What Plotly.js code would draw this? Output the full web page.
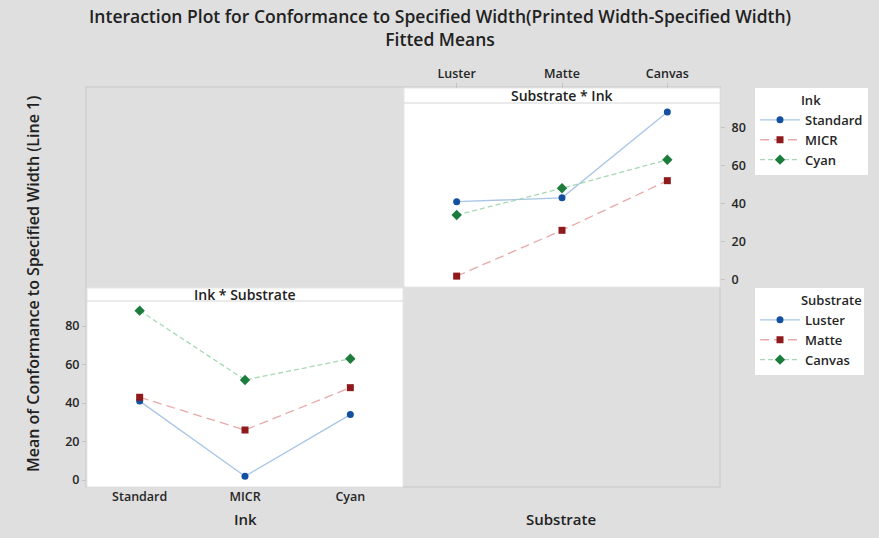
<!DOCTYPE html>
<html>
<head>
<meta charset="utf-8">
<script src="https://cdn.plot.ly/plotly-3.0.1.min.js"></script>
<style>html,body{margin:0;padding:0;background:#dfdfdf;}#chart{width:879px;height:538px;}</style>
</head>
<body>
<div id="chart"></div>
<script>
// Data: fitted means, rows = Ink, columns = Substrate
const inks = ['Standard', 'MICR', 'Cyan'];
const substrates = ['Luster', 'Matte', 'Canvas'];
const standardMeans = [41, 43, 88];
const micrMeans = [2, 26, 52];
const cyanMeans = [34, 48, 63];
const yTicks = [0, 20, 40, 60, 80];

const W = 879, H = 538;
const px = v => v / W;
const py = v => 1 - v / H;

const FONT = 'Open Sans, Noto Sans, sans-serif';
const styles = [
  {marker: {color: '#1450a0', symbol: 'circle', size: 7}, line: {color: '#a9c5e6', width: 1.3, dash: 'solid'}},
  {marker: {color: '#8e1a1c', symbol: 'square', size: 7}, line: {color: '#e9a9a9', width: 1.3, dash: '9px,5px'}},
  {marker: {color: '#1c7c3c', symbol: 'diamond', size: 8}, line: {color: '#a6d9b3', width: 1.3, dash: '5px,3px'}}
];

const inkSeries = [standardMeans, micrMeans, cyanMeans];
const traces = [];
// Top-right panel: Substrate on x, one line per Ink
inkSeries.forEach((vals, i) => {
  traces.push({
    type: 'scatter', mode: 'lines+markers', name: inks[i],
    x: substrates, y: vals, xaxis: 'x', yaxis: 'y', legend: 'legend',
    marker: styles[i].marker, line: styles[i].line, cliponaxis: false
  });
});
// Bottom-left panel: Ink on x, one line per Substrate
substrates.forEach((s, j) => {
  traces.push({
    type: 'scatter', mode: 'lines+markers', name: s,
    x: inks, y: inkSeries.map(r => r[j]), xaxis: 'x2', yaxis: 'y2', legend: 'legend2',
    marker: styles[j].marker, line: styles[j].line, cliponaxis: false
  });
});

const tickFont = {family: FONT, size: 12.5, color: '#262626', weight: 600};
const axisCommon = {
  showgrid: false, zeroline: false, showline: false,
  ticks: 'outside', ticklen: 4, tickcolor: '#c4c4c4', tickwidth: 1,
  tickfont: tickFont, fixedrange: true
};
const pad = '\u00a0'.repeat(13);
const legendFont = {family: FONT, size: 13, color: '#262626', weight: 600};

const layout = {
  width: W, height: H,
  margin: {l: 0, r: 0, t: 0, b: 0},
  paper_bgcolor: '#dfdfdf',
  plot_bgcolor: 'rgba(0,0,0,0)',
  showlegend: true,
  xaxis: Object.assign({}, axisCommon, {
    domain: [px(404), px(720)], anchor: 'free', position: py(88), side: 'top',
    type: 'category', range: [-0.5, 2.5], ticklen: 5
  }),
  yaxis: Object.assign({}, axisCommon, {
    domain: [py(287), py(103)], anchor: 'free', position: px(720), side: 'right',
    range: [-3.7, 92.7], tickvals: yTicks, ticklabelstandoff: 4
  }),
  xaxis2: Object.assign({}, axisCommon, {
    domain: [px(87), px(403)], anchor: 'y2', side: 'bottom',
    type: 'category', range: [-0.5, 2.5], ticks: '', ticklen: 0
  }),
  yaxis2: Object.assign({}, axisCommon, {
    domain: [py(487), py(301)], anchor: 'x2', side: 'left',
    range: [-3.6, 93], tickvals: yTicks
  }),
  legend: {
    x: px(755), y: py(88), xanchor: 'left', yanchor: 'top',
    bgcolor: '#ffffff', borderwidth: 0,
    title: {text: pad + 'Ink', font: legendFont},
    font: legendFont, tracegroupgap: 0, itemwidth: 40
  },
  legend2: {
    x: px(755), y: py(288), xanchor: 'left', yanchor: 'top',
    bgcolor: '#ffffff', borderwidth: 0,
    title: {text: pad + 'Substrate', font: legendFont},
    font: legendFont, tracegroupgap: 0, itemwidth: 40
  },
  shapes: [
    // outer grid border
    {type: 'rect', xref: 'paper', yref: 'paper', x0: px(86), x1: px(720), y0: py(487), y1: py(87),
     line: {color: '#d0d0d0', width: 1.5}, fillcolor: 'rgba(0,0,0,0)', layer: 'below'},
    // top-right panel
    {type: 'rect', xref: 'paper', yref: 'paper', x0: px(404), x1: px(720), y0: py(287), y1: py(88),
     line: {color: '#e6e6e6', width: 1}, fillcolor: '#ffffff', layer: 'below'},
    {type: 'line', xref: 'paper', yref: 'paper', x0: px(404), x1: px(720), y0: py(103), y1: py(103),
     line: {color: '#d6d6d6', width: 1}, layer: 'below'},
    // bottom-left panel
    {type: 'rect', xref: 'paper', yref: 'paper', x0: px(87), x1: px(403), y0: py(487), y1: py(288),
     line: {color: '#e6e6e6', width: 1}, fillcolor: '#ffffff', layer: 'below'},
    {type: 'line', xref: 'paper', yref: 'paper', x0: px(87), x1: px(403), y0: py(301), y1: py(301),
     line: {color: '#d6d6d6', width: 1}, layer: 'below'}
  ],
  annotations: [
    {text: 'Interaction Plot for Conformance to Specified Width(Printed Width-Specified Width)<br>Fitted Means',
     xref: 'paper', yref: 'paper', x: px(440), y: py(28), xanchor: 'center', yanchor: 'middle', showarrow: false,
     font: {family: FONT, size: 17.5, color: '#222222', weight: 600}},
    {text: 'Substrate * Ink', xref: 'paper', yref: 'paper', x: px(562), y: py(95.5), xanchor: 'center', yanchor: 'middle',
     showarrow: false, font: {family: FONT, size: 14, color: '#222222', weight: 600}},
    {text: 'Ink * Substrate', xref: 'paper', yref: 'paper', x: px(245), y: py(294.5), xanchor: 'center', yanchor: 'middle',
     showarrow: false, font: {family: FONT, size: 14, color: '#222222', weight: 600}},
    {text: 'Ink', xref: 'paper', yref: 'paper', x: px(245), y: py(519), xanchor: 'center', yanchor: 'middle',
     showarrow: false, font: {family: FONT, size: 15, color: '#222222', weight: 600}},
    {text: 'Substrate', xref: 'paper', yref: 'paper', x: px(561), y: py(519), xanchor: 'center', yanchor: 'middle',
     showarrow: false, font: {family: FONT, size: 15, color: '#222222', weight: 600}},
    {text: 'Mean of Conformance to Specified Width (Line 1)', xref: 'paper', yref: 'paper', x: px(33), y: py(284),
     xanchor: 'center', yanchor: 'middle', textangle: -90, showarrow: false,
     font: {family: FONT, size: 16, color: '#222222', weight: 600}}
  ]
};

Plotly.newPlot('chart', traces, layout, {displayModeBar: false, staticPlot: true});
</script>
</body>
</html>
